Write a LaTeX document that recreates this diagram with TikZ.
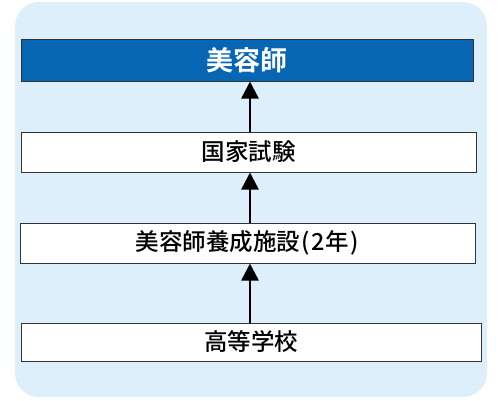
\documentclass[tikz,border=0pt]{standalone}
\usepackage{fontspec}
\setmainfont{Noto Sans CJK JP}[UprightFont=* Medium, BoldFont=* Bold]
\usetikzlibrary{arrows.meta}
\definecolor{bgblue}{HTML}{DEEFFC}
\definecolor{titleblue}{HTML}{0766B3}
\definecolor{edge}{HTML}{333333}
\tikzset{
  box/.style={draw=edge, line width=1pt, fill=white, inner sep=0pt, font=\fontsize{23.5}{26}\selectfont, text=black},
  titlebox/.style={box, fill=titleblue, text=white, font=\fontsize{27}{30}\selectfont\bfseries},
  arr/.style={line width=2.5pt, -{Triangle[width=17pt,length=17pt]}}
}
\begin{document}
\begin{tikzpicture}[x=1pt,y=-1pt]
\useasboundingbox (0,0) rectangle (500,400);
\fill[bgblue, rounded corners=24pt] (15,2) rectangle (487,397);
\node[titlebox, minimum width=452pt, minimum height=42pt] (title) at (247,60) {美容師};
\node[box, minimum width=455pt, minimum height=40pt] (exam) at (248.5,152) {国家試験};
\node[box, minimum width=455pt, minimum height=40pt] (school) at (247.5,243) {美容師養成施設\kern1pt(\kern2pt2年\kern2pt)};
\node[box, minimum width=460pt, minimum height=38pt] (high) at (251,342) {高等学校};
\coordinate (ax) at (250,0);
\draw[arr] (exam.north -| ax) -- (title.south -| ax);
\draw[arr] (school.north -| ax) -- (exam.south -| ax);
\draw[arr] (high.north -| ax) -- (school.south -| ax);
\end{tikzpicture}
\end{document}
